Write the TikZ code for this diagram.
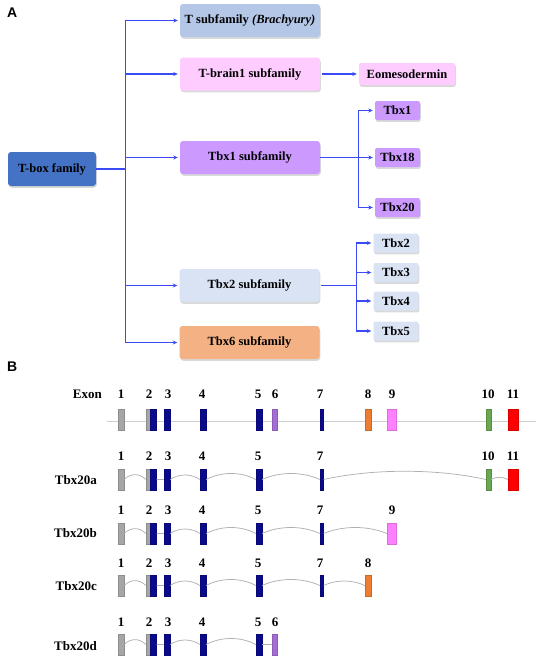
\documentclass[tikz,border=0pt]{standalone}
\usepackage{fontspec}
\setmainfont{Liberation Serif}
\newfontfamily\arialf{Liberation Sans}
\usetikzlibrary{shadows,calc,arrows.meta}
\definecolor{arrowblue}{HTML}{3A4BF5}
\definecolor{tboxc}{HTML}{4472C4}
\definecolor{tsubc}{HTML}{B4C7E7}
\definecolor{tbrc}{HTML}{FFCCFF}
\definecolor{tbxonec}{HTML}{CC99FF}
\definecolor{tbxtwoc}{HTML}{DAE3F3}
\definecolor{tbxsixc}{HTML}{F4B183}
\definecolor{exgray}{HTML}{A6A6A6}
\definecolor{exblue}{HTML}{0A0A8C}
\definecolor{expurple}{HTML}{A56CD6}
\definecolor{exorange}{HTML}{ED7D31}
\definecolor{expink}{HTML}{FF80FF}
\definecolor{exgreen}{HTML}{6AA84F}
\definecolor{exred}{HTML}{FF0000}
\definecolor{intronc}{HTML}{B0B0B0}
\definecolor{basec}{HTML}{D0D0D0}

\newcommand{\exrow}[3]{%
  \foreach \i/\xc/\w/\col in {#3} {
    \node[exon=\col, minimum width=\w pt] (#1\i) at (\xc,#2) {};
  }}
\newcommand{\numrow}[3]{%
  \foreach \i/\xc in {#3} {
    \node[num] (#1n\i) at (\xc,#2) {\i};
  }}
\newcommand{\intr}[3]{%
  \draw[intron] (#1.east) .. controls ($(#1.east)!0.3!(#2.west)+(0,-#3)$) and ($(#1.east)!0.7!(#2.west)+(0,-#3)$) .. (#2.west);}

\begin{document}
\begin{tikzpicture}[x=1pt,y=-1pt,
  fam/.style={rounded corners=3pt, minimum width=140pt, minimum height=33pt, inner sep=0pt,
    font=\fontsize{12.5}{14}\selectfont\bfseries,
    drop shadow={shadow xshift=0.8pt,shadow yshift=-1.8pt,opacity=0.3}},
  sm/.style={fam, minimum width=45pt, minimum height=19pt, rounded corners=2pt},
  arr/.style={draw=arrowblue, line width=1.25pt, -{Stealth[length=4.5pt,width=4pt]}, shorten >=2pt},
  exon/.style={rectangle, inner sep=0pt, minimum height=21pt, fill=#1, draw=#1!85!black, line width=0.3pt},
  num/.style={inner sep=0pt, font=\fontsize{13}{15}\selectfont\bfseries},
  rowlab/.style={inner sep=0pt, anchor=east, font=\fontsize{13}{15}\selectfont\bfseries},
  intron/.style={draw=intronc, line width=0.75pt},
  panel/.style={inner sep=0pt, anchor=north west, font=\arialf\bfseries\fontsize{14}{16}\selectfont}]
\useasboundingbox (0,0) rectangle (536,657);

% ---------- Panel A ----------
\node[panel] (labA) at (7,8) {A};
\node[fam, fill=tboxc, minimum width=88pt, minimum height=34pt] (tbox) at (52,169) {T-box family};
\node[fam, fill=tsubc] (tsub) at (250,20.5) {T subfamily \textit{(Brachyury)}};
\node[fam, fill=tbrc] (tbrain) at (250,74) {T-brain1 subfamily};
\node[sm, fill=tbrc, minimum width=96pt, minimum height=22pt] (eomes) at (407,74) {Eomesodermin};
\node[fam, fill=tbxonec] (tbxonesub) at (250,157.5) {Tbx1 subfamily};
\node[sm, fill=tbxonec] (tbxa) at (397.5,110.5) {Tbx1};
\node[sm, fill=tbxonec] (tbxb) at (397.5,157.5) {Tbx18};
\node[sm, fill=tbxonec] (tbxc) at (397.5,207.5) {Tbx20};
\node[fam, fill=tbxtwoc] (tbxtwosub) at (249.5,285.5) {Tbx2 subfamily};
\node[sm, fill=tbxtwoc] (tbxd) at (396,243) {Tbx2};
\node[sm, fill=tbxtwoc] (tbxe) at (396,272.5) {Tbx3};
\node[sm, fill=tbxtwoc] (tbxf) at (396,301) {Tbx4};
\node[sm, fill=tbxtwoc] (tbxg) at (396,331) {Tbx5};
\node[fam, fill=tbxsixc] (tbxsixsub) at (249.5,342.5) {Tbx6 subfamily};

\foreach \t in {tsub,tbrain,tbxonesub,tbxtwosub,tbxsixsub}
  \draw[arr] (tbox.east) -- ++(29,0) |- (\t.west);
\draw[arr, shorten <=2pt] (tbrain.east) -- (eomes.west);
\foreach \t in {tbxa,tbxb,tbxc}
  \draw[arr] (tbxonesub.east) -- ++(38,0) |- (\t.west);
\foreach \t in {tbxd,tbxe,tbxf,tbxg}
  \draw[arr, shorten <=1.5pt] (tbxtwosub.east) -- ++(37,0) |- (\t.west);

% ---------- Panel B ----------
\node[panel] (labB) at (7,362) {B};

% Exon reference row
\node[rowlab] (lexon) at (102,394) {Exon};
\coordinate (bl) at (107,421);
\coordinate (br) at (536,421);
\draw[draw=basec, line width=0.9pt] (bl) -- (br);
\numrow{r}{394}{1/121,2/149,3/168,4/202,5/258,6/275,7/320,8/368,9/392,10/488,11/513}
\exrow{r}{419.5}{1/121/6/exgray,g/148/4/exgray,2/153.25/6.5/exblue,3/167/6/exblue,4/203/6/exblue,5/259/6/exblue,6/274.5/5/expurple,7/321.75/3.5/exblue,8/368/6/exorange,9/391.5/9/expink,10/488.5/5/exgreen,11/513/10/exred}

% Tbx20a
\node[rowlab] (la) at (97,480) {Tbx20a};
\numrow{a}{456}{1/121,2/149,3/168,4/202,5/258,7/320,10/488,11/513}
\exrow{a}{479.5}{1/121/6/exgray,g/148/4/exgray,2/153.25/6.5/exblue,3/167/6/exblue,4/203/6/exblue,5/259/6/exblue,7/321.75/3.5/exblue,10/488.5/5/exgreen,11/513/10/exred}
\intr{a1}{ag}{6.5}
\intr{a2}{a3}{0}
\intr{a3}{a4}{6}
\intr{a4}{a5}{8}
\intr{a5}{a7}{8}
\intr{a7}{a10}{11}
\intr{a10}{a11}{3}

% Tbx20b
\node[rowlab] (lb) at (97,533) {Tbx20b};
\numrow{b}{510}{1/121,2/149,3/168,4/202,5/258,7/320,9/392}
\exrow{b}{533.5}{1/121/6/exgray,g/148/4/exgray,2/153.25/6.5/exblue,3/167/6/exblue,4/203/6/exblue,5/259/6/exblue,7/321.75/3.5/exblue,9/391.5/9/expink}
\intr{b1}{bg}{6.5}
\intr{b2}{b3}{0}
\intr{b3}{b4}{6}
\intr{b4}{b5}{8}
\intr{b5}{b7}{8}
\intr{b7}{b9}{8}

% Tbx20c
\node[rowlab] (lc) at (97,586) {Tbx20c};
\numrow{c}{563}{1/121,2/149,3/168,4/202,5/258,7/320,8/368}
\exrow{c}{585.5}{1/121/6/exgray,g/148/4/exgray,2/153.25/6.5/exblue,3/167/6/exblue,4/203/6/exblue,5/259/6/exblue,7/321.75/3.5/exblue,8/368/6/exorange}
\intr{c1}{cg}{6.5}
\intr{c2}{c3}{0}
\intr{c3}{c4}{6}
\intr{c4}{c5}{8}
\intr{c5}{c7}{8}
\intr{c7}{c8}{6}

% Tbx20d
\node[rowlab] (ld) at (97,646) {Tbx20d};
\numrow{d}{622}{1/121,2/149,3/168,4/202,5/258,6/275}
\exrow{d}{644.5}{1/121/6/exgray,g/148/4/exgray,2/153.25/6.5/exblue,3/167/6/exblue,4/203/6/exblue,5/259/6/exblue,6/274.5/5/expurple}
\intr{d1}{dg}{6.5}
\intr{d2}{d3}{0}
\intr{d3}{d4}{6}
\intr{d4}{d5}{8}
\intr{d5}{d6}{0}
\end{tikzpicture}
\end{document}
